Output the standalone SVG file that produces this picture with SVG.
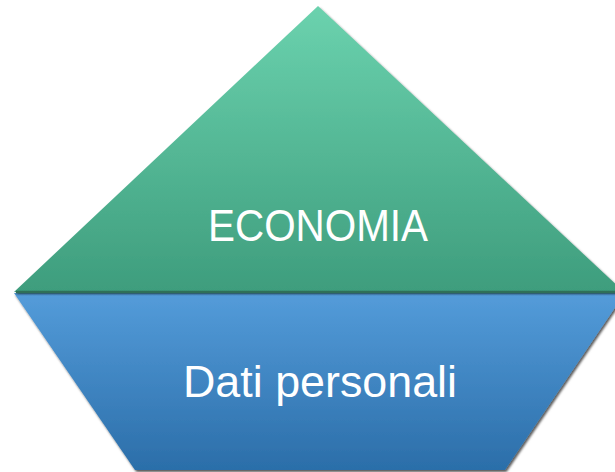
<svg xmlns="http://www.w3.org/2000/svg" width="615" height="472" viewBox="0 0 615 472">
<defs>
<linearGradient id="gGreen" x1="0" y1="0" x2="0" y2="1">
<stop offset="0" stop-color="#6bd2ae"/>
<stop offset="1" stop-color="#3e9d7d"/>
</linearGradient>
<linearGradient id="gBlue" x1="0" y1="0" x2="0" y2="1">
<stop offset="0" stop-color="#549cda"/>
<stop offset="1" stop-color="#2b6ea9"/>
</linearGradient>
<filter id="sh" x="-10%" y="-10%" width="120%" height="120%">
<feDropShadow dx="1.5" dy="2" stdDeviation="1.2" flood-color="#000" flood-opacity="0.65"/>
</filter>
</defs>
<style>
.lbl{font-family:"Liberation Sans","Arial",sans-serif;font-size:44px;fill:#ffffff;text-anchor:middle}
</style>
<g id="node-dati">
<polygon points="14,293 625,293 505,470 135,470" fill="url(#gBlue)" filter="url(#sh)"/>
<text class="lbl" x="320" y="397" textLength="274" lengthAdjust="spacingAndGlyphs">Dati personali</text>
</g>
<g id="node-economia">
<polygon points="318,6 624,292 14,292" fill="url(#gGreen)" filter="url(#sh)"/>
<line x1="16" y1="292" x2="615" y2="292" stroke="#2f6f58" stroke-width="2.5"/>
<text class="lbl" x="318" y="241" textLength="220" lengthAdjust="spacingAndGlyphs">ECONOMIA</text>
</g>
<g id="connectors"/>
</svg>
